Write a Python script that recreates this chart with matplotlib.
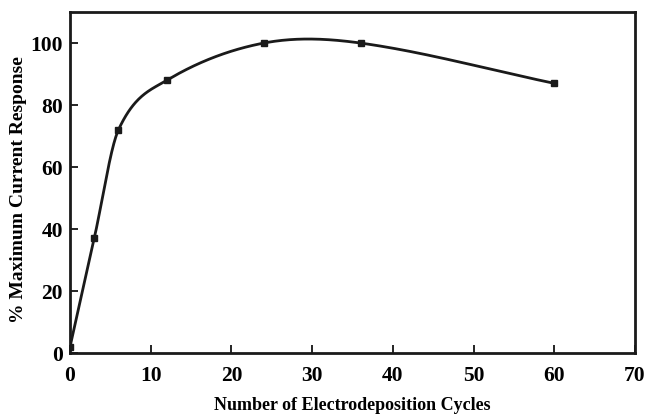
import numpy as np
import matplotlib
matplotlib.use("Agg")
import matplotlib.pyplot as plt

cycles = [0, 3, 6, 12, 24, 36, 60]
response = [2, 37, 72, 88, 100, 100, 87]
xticks = [0, 10, 20, 30, 40, 50, 60, 70]
yticks = [0, 20, 40, 60, 80, 100]

def catmull_rom(x, y, n_per=80):
    x = np.asarray(x, float); y = np.asarray(y, float)
    n = len(x)
    m = np.zeros(n)
    m[0] = (y[1] - y[0]) / (x[1] - x[0])
    m[-1] = (y[-1] - y[-2]) / (x[-1] - x[-2])
    for i in range(1, n - 1):
        m[i] = (y[i + 1] - y[i - 1]) / (x[i + 1] - x[i - 1])
    xs_all, ys_all = [], []
    for i in range(n - 1):
        h = x[i + 1] - x[i]
        t = np.linspace(0, 1, n_per)
        h00 = 2 * t**3 - 3 * t**2 + 1
        h10 = t**3 - 2 * t**2 + t
        h01 = -2 * t**3 + 3 * t**2
        h11 = t**3 - t**2
        xs_all.append(x[i] + t * h)
        ys_all.append(h00 * y[i] + h10 * h * m[i] + h01 * y[i + 1] + h11 * h * m[i + 1])
    return np.concatenate(xs_all), np.concatenate(ys_all)

plt.rcParams['font.family'] = 'Liberation Serif'
plt.rcParams['font.weight'] = 'bold'

fig = plt.figure(figsize=(6.46, 4.16), dpi=100)
ax = fig.add_axes([0.1084, 0.1514, 0.8746, 0.8196])

xs, ys = catmull_rom(cycles, response)
ax.plot(xs, ys, color='#1a1a1a', lw=2.0)
ax.plot(cycles, response, 's', color='#1a1a1a', ms=4.5)

ax.set_xlim(0, 70)
ax.set_ylim(0, 110)
ax.set_xticks(xticks)
ax.set_yticks(yticks)
ax.tick_params(direction='in', length=6, width=1.2, labelsize=15.5, top=False, right=False)
ax.tick_params(axis='x', pad=9)
ax.tick_params(axis='y', pad=5)
for lab in ax.get_xticklabels() + ax.get_yticklabels():
    lab.set_fontweight('bold')
for s in ax.spines.values():
    s.set_linewidth(2)
    s.set_color('#1a1a1a')

ax.set_xlabel('Number of Electrodeposition Cycles', fontsize=13, fontweight='bold', labelpad=8)
ax.set_ylabel('% Maximum Current Response', fontsize=14, fontweight='bold')
ax.yaxis.set_label_coords(-0.077, 0.48)

fig.savefig('out.png', dpi=100)
